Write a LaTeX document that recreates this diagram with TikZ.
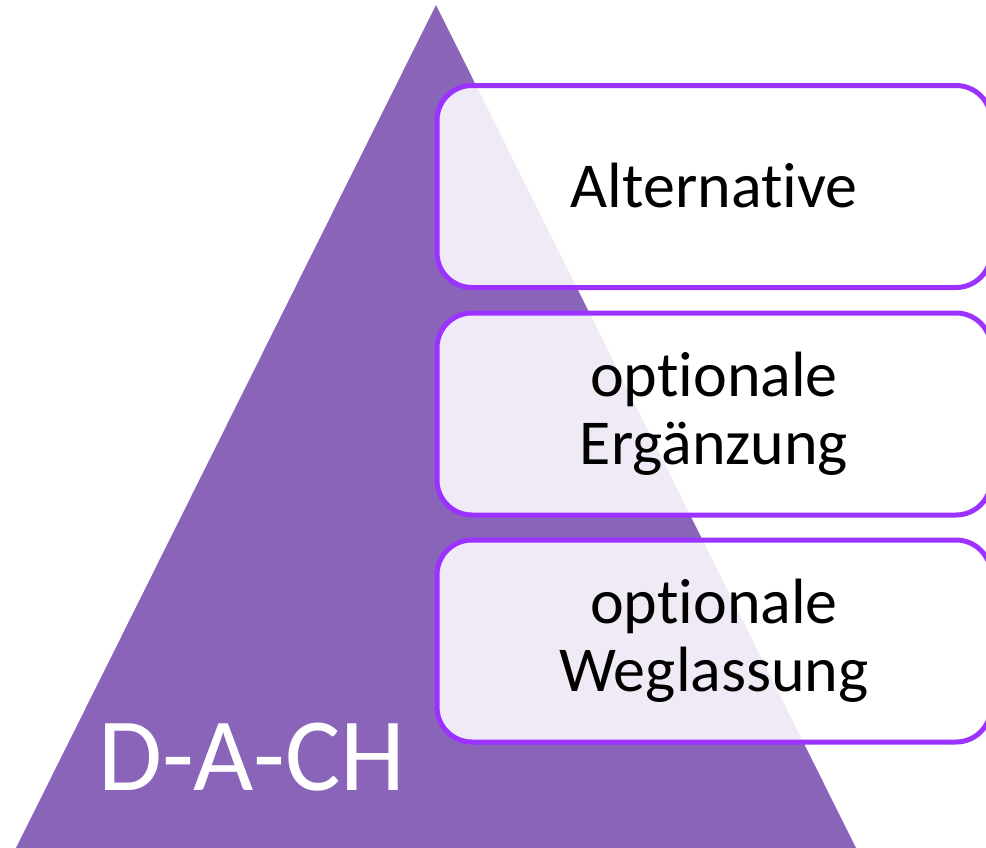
\documentclass[tikz,border=0pt]{standalone}
\usepackage{fontspec}
\setmainfont{Carlito}[Ligatures=NoCommon]
\definecolor{dachpurple}{RGB}{137,100,185}
\definecolor{boxline}{RGB}{155,50,255}

\begin{document}
\begin{tikzpicture}[x=1pt,y=-1pt,
  box/.style={draw=boxline,line width=5pt,fill=white,fill opacity=.87,text opacity=1,
    rounded corners=35pt,minimum width=554pt,minimum height=202pt,inner sep=0pt,
    align=center,font=\fontsize{64}{68}\selectfont}]
\useasboundingbox (0,0) rectangle (986,847);
\clip (0,0) rectangle (986,847);

\fill[dachpurple] (436,5) -- (858,852) -- (14,852) -- cycle;
\node[white,anchor=base west,inner sep=0pt,font=\fontsize{104}{104}\selectfont] (dach) at (98,790) {D-A-CH};

\node[box] (alt) at (714,186.5) {\raisebox{3pt}{Alternative}};
\node[box] (erg) at (714,414) {optionale\\Erg\"anzung};
\node[box] (weg) at (714,641) {optionale\\Weglassung};

\end{tikzpicture}
\end{document}
